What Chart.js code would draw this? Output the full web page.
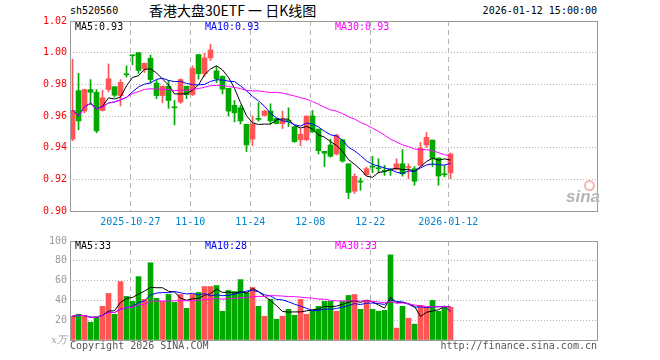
<!DOCTYPE html>
<html>
<head>
<meta charset="utf-8">
<script src="https://cdn.jsdelivr.net/npm/chart.js@4.4.1/dist/chart.umd.min.js"></script>
<style>
body { margin: 0; width: 660px; height: 360px; background: #fff; position: relative; overflow: hidden;
  font-family: "DejaVu Sans Mono", monospace; font-size: 10px; }
.t { position: absolute; white-space: nowrap; line-height: 12px; }
#pc { position: absolute; left: 0; top: 0; }
#vc { position: absolute; left: 0; top: 232px; }
.lg { position: absolute; white-space: nowrap; line-height: 12px; }
.eye { position: absolute; left: 584px; top: 180px; width: 7px; height: 7px; border: 2px solid #f4b4b4; border-radius: 50%; }
</style>
</head>
<body>
<div class="t" style="left:70px;top:5px">sh520560</div>
<div class="t" style="left:149px;top:2px;font-family:'Noto Sans CJK SC';font-size:14px;line-height:16px">香港大盘30ETF 一 日K线图</div>
<div class="t" style="right:63px;top:5px">2026-01-12 15:00:00</div>
<canvas id="pc" width="660" height="232"></canvas>
<canvas id="vc" width="660" height="128"></canvas>
<div class="lg" id="p5" style="left:75px;top:21px;color:#000"></div>
<div class="lg" id="p10" style="left:205px;top:21px;color:#0000ff"></div>
<div class="lg" id="p30" style="left:335px;top:21px;color:#ff00ff"></div>
<div class="lg" id="v5" style="left:75px;top:240px;color:#000"></div>
<div class="lg" id="v10" style="left:205px;top:240px;color:#0000ff"></div>
<div class="lg" id="v30" style="left:335px;top:240px;color:#ff00ff"></div>
<div class="eye"></div>
<div class="t" style="left:566px;top:188px;font-family:'Liberation Sans';font-style:italic;font-weight:bold;font-size:17px;line-height:18px;color:#b4b4b4">sina</div>
<div class="t" style="left:70px;top:340px;color:#555">Copyright 2026 SINA.COM</div>
<div class="t" style="right:63px;top:340px;color:#555">http://finance.sina.com.cn</div>
<script>
var dates = [
  '2025-10-13','2025-10-14','2025-10-15','2025-10-16','2025-10-17',
  '2025-10-20','2025-10-21','2025-10-22','2025-10-23','2025-10-24',
  '2025-10-27','2025-10-28','2025-10-29','2025-10-30','2025-10-31',
  '2025-11-03','2025-11-04','2025-11-05','2025-11-06','2025-11-07',
  '2025-11-10','2025-11-11','2025-11-12','2025-11-13','2025-11-14',
  '2025-11-17','2025-11-18','2025-11-19','2025-11-20','2025-11-21',
  '2025-11-24','2025-11-25','2025-11-26','2025-11-27','2025-11-28',
  '2025-12-01','2025-12-02','2025-12-03','2025-12-04','2025-12-05',
  '2025-12-08','2025-12-09','2025-12-10','2025-12-11','2025-12-12',
  '2025-12-15','2025-12-16','2025-12-17','2025-12-18','2025-12-19',
  '2025-12-22','2025-12-23','2025-12-24','2025-12-25','2025-12-26',
  '2025-12-29','2025-12-30','2025-12-31',
  '2026-01-05','2026-01-06','2026-01-07','2026-01-08','2026-01-09','2026-01-12'
];
var open = [
  0.9454, 0.9760, 0.9631, 0.9767, 0.9750, 0.9635, 0.9767, 0.9785, 0.9729, 0.9862,
  0.9982, 1.0000, 0.9896, 0.9965, 0.9808, 0.9729, 0.9788, 0.9654, 0.9688, 0.9788,
  0.9735, 0.9988, 0.9867, 0.9967, 0.9885, 0.9850, 0.9775, 0.9667, 0.9652, 0.9548,
  0.9454, 0.9581, 0.9604, 0.9631, 0.9585, 0.9552, 0.9569, 0.9533, 0.9450, 0.9450,
  0.9600, 0.9517, 0.9377, 0.9417, 0.9360, 0.9450, 0.9298, 0.9125, 0.9185, 0.9229,
  0.9279, 0.9269, 0.9252, 0.9258, 0.9263, 0.9298, 0.9275, 0.9267, 0.9288, 0.9417,
  0.9448, 0.9335, 0.9231, 0.9240
];
var high = [
  0.9958, 0.9869, 0.9770, 0.9830, 0.9767, 0.9763, 0.9929, 0.9785, 0.9830, 0.9917,
  0.9985, 1.0000, 0.9933, 0.9985, 0.9825, 0.9790, 0.9825, 0.9698, 0.9835, 0.9788,
  0.9917, 0.9988, 0.9996, 1.0054, 0.9913, 0.9854, 0.9775, 0.9698, 0.9667, 0.9548,
  0.9600, 0.9683, 0.9637, 0.9677, 0.9585, 0.9631, 0.9652, 0.9533, 0.9520, 0.9600,
  0.9635, 0.9517, 0.9377, 0.9454, 0.9485, 0.9450, 0.9298, 0.9235, 0.9208, 0.9277,
  0.9346, 0.9330, 0.9288, 0.9267, 0.9330, 0.9388, 0.9298, 0.9281, 0.9433, 0.9496,
  0.9448, 0.9335, 0.9288, 0.9367
];
var low = [
  0.9443, 0.9513, 0.9620, 0.9673, 0.9494, 0.9631, 0.9752, 0.9720, 0.9663, 0.9846,
  0.9923, 0.9870, 0.9875, 0.9808, 0.9710, 0.9683, 0.9648, 0.9544, 0.9680, 0.9710,
  0.9729, 0.9833, 0.9850, 0.9950, 0.9810, 0.9740, 0.9600, 0.9563, 0.9550, 0.9375,
  0.9413, 0.9567, 0.9600, 0.9550, 0.9550, 0.9521, 0.9533, 0.9433, 0.9413, 0.9444,
  0.9496, 0.9360, 0.9281, 0.9340, 0.9354, 0.9308, 0.9079, 0.9110, 0.9131, 0.9225,
  0.9242, 0.9240, 0.9225, 0.9225, 0.9260, 0.9220, 0.9204, 0.9163, 0.9281, 0.9402,
  0.9281, 0.9163, 0.9215, 0.9204
];
var close = [
  0.9635, 0.9569, 0.9767, 0.9750, 0.9506, 0.9715, 0.9835, 0.9731, 0.9812, 0.9860,
  0.9980, 0.9888, 0.9933, 0.9830, 0.9729, 0.9788, 0.9698, 0.9652, 0.9830, 0.9735,
  0.9900, 0.9867, 0.9967, 1.0017, 0.9835, 0.9770, 0.9631, 0.9620, 0.9569, 0.9417,
  0.9548, 0.9579, 0.9631, 0.9569, 0.9552, 0.9579, 0.9567, 0.9438, 0.9485, 0.9600,
  0.9500, 0.9381, 0.9365, 0.9346, 0.9479, 0.9315, 0.9117, 0.9219, 0.9183, 0.9267,
  0.9277, 0.9267, 0.9250, 0.9256, 0.9298, 0.9235, 0.9279, 0.9188, 0.9398, 0.9465,
  0.9333, 0.9221, 0.9229, 0.9360
];
// volume in 万
var volume = [
  24, 26, 24, 18, 23, 34, 47, 26, 59, 44,
  39, 64, 41, 78, 42, 39, 46, 38, 46, 32,
  46, 48, 54, 54, 55, 29, 50, 49, 61, 48,
  53, 34, 24, 41, 21, 24, 31, 25, 41, 26,
  30, 34, 39, 39, 29, 39, 45, 46, 31, 40,
  31, 29, 30, 86, 12, 34, 22, 16, 35, 33,
  40, 29, 33, 33
];
var tickDates = ['2025-10-27', '2025-11-10', '2025-11-24', '2025-12-08', '2025-12-22', '2026-01-12'];
var priceTicks = [0.90, 0.92, 0.94, 0.96, 0.98, 1.00, 1.02];
var volTicks = [0, 20, 40, 60, 80, 100];

var RED = '#ff5555', GREEN = '#00a800';
var colors = close.map(function(c, i) { return c >= open[i] ? RED : GREEN; });
var tickIdx = tickDates.map(function(d) { return dates.indexOf(d); });
var xMin = -0.42, xMax = 87.42, tickShift = 0.37;
var mono = {family: 'DejaVu Sans Mono', size: 10};

// moving average over the bars available so far
var ma = function(arr, n) {
    return arr.map(function(_, i) {
        var s = arr.slice(Math.max(0, i - n + 1), i + 1);
        return s.reduce(function(a, b) { return a + b; }, 0) / s.length;
    });
};
var pts = function(arr) { return arr.map(function(y, i) { return {x: i, y: y}; }); };

var tickText = function(i) {
    var k = tickIdx.indexOf(i);
    if (k < 0) return '';
    var d = dates[i];
    if (k === 0 || d.slice(0, 4) !== dates[tickIdx[k - 1]].slice(0, 4)) return d;
    return d.slice(5);
};

var xScale = function(showLabels) {
    return {
        type: 'linear', min: xMin, max: xMax, offset: false,
        afterBuildTicks: function(s) { s.ticks = tickIdx.map(function(i) { return {value: i - tickShift}; }); },
        afterFit: function(s) { s.height = showLabels ? 21 : 0; },
        grid: {offset: false, color: '#b4b4b4', drawTicks: false},
        border: {display: false, dash: [5, 4]},
        ticks: {
            display: showLabels, autoSkip: false, maxRotation: 0, padding: 5,
            color: '#0086d1', font: mono,
            callback: function(v) { return tickText(Math.round(v + tickShift)); }
        }
    };
};

var frame = {
    id: 'frame',
    afterDraw: function(c) {
        var a = c.chartArea, ctx = c.ctx;
        ctx.save();
        ctx.strokeStyle = '#999';
        ctx.lineWidth = 1;
        ctx.strokeRect(Math.round(a.left) + 0.5, Math.round(a.top) + 0.5,
            Math.round(a.right - a.left), Math.round(a.bottom - a.top));
        ctx.restore();
    }
};

var lineSet = function(data, color, order) {
    return {type: 'line', data: pts(data), borderColor: color, borderWidth: 1,
        pointRadius: 0, fill: false, tension: 0, order: order};
};

var pMa5 = ma(close, 5), pMa10 = ma(close, 10), pMa30 = ma(close, 30);
var vMa5 = ma(volume, 5), vMa10 = ma(volume, 10), vMa30 = ma(volume, 30);
var last = close.length - 1;
document.getElementById('p5').textContent = 'MA5:' + pMa5[last].toFixed(2);
document.getElementById('p10').textContent = 'MA10:' + pMa10[last].toFixed(2);
document.getElementById('p30').textContent = 'MA30:' + pMa30[last].toFixed(2);
document.getElementById('v5').textContent = 'MA5:' + Math.floor(vMa5[last]);
document.getElementById('v10').textContent = 'MA10:' + Math.floor(vMa10[last]);
document.getElementById('v30').textContent = 'MA30:' + Math.floor(vMa30[last]);

var priceChart = new Chart('pc', {
    type: 'bar',
    data: {
        datasets: [
            lineSet(pMa30, '#ff00ff', 0),
            lineSet(pMa10, '#0000ff', 1),
            lineSet(pMa5, '#000000', 2),
            {
                data: open.map(function(o, i) { return {x: i, y: [o, close[i]]}; }),
                backgroundColor: colors, barThickness: 5, grouped: false,
                minBarLength: 1, borderWidth: 0, order: 3
            },
            {
                data: low.map(function(l, i) { return {x: i, y: [l, high[i]]}; }),
                backgroundColor: colors, barThickness: 1, grouped: false,
                minBarLength: 1, borderWidth: 0, order: 4
            }
        ]
    },
    options: {
        responsive: false,
        animation: false,
        layout: {padding: {left: 0, right: 63, top: 21, bottom: 0}},
        plugins: {legend: {display: false}, tooltip: {enabled: false}},
        scales: {
            x: xScale(true),
            y: {
                min: 0.90, max: 1.02,
                afterBuildTicks: function(s) { s.ticks = priceTicks.map(function(v) { return {value: v}; }); },
                afterFit: function(s) { s.width = 70; },
                grid: {color: '#b4b4b4', drawTicks: false},
                border: {display: false, dash: [1, 2]},
                ticks: {color: '#ff0000', padding: 3, font: mono,
                    callback: function(v) { return v.toFixed(2); }}
            }
        }
    },
    plugins: [frame]
});

var volChart = new Chart('vc', {
    type: 'bar',
    data: {
        datasets: [
            lineSet(vMa30, '#ff00ff', 0),
            lineSet(vMa10, '#0000ff', 1),
            lineSet(vMa5, '#000000', 2),
            {
                data: pts(volume),
                backgroundColor: colors, barThickness: 5, grouped: false,
                borderWidth: 0, order: 3
            }
        ]
    },
    options: {
        responsive: false,
        animation: false,
        layout: {padding: {left: 0, right: 63, top: 8, bottom: 20}},
        plugins: {legend: {display: false}, tooltip: {enabled: false}},
        scales: {
            x: xScale(false),
            y: {
                min: 0, max: 100,
                afterBuildTicks: function(s) { s.ticks = volTicks.map(function(v) { return {value: v}; }); },
                afterFit: function(s) { s.width = 70; },
                grid: {color: '#b4b4b4', drawTicks: false},
                border: {display: false, dash: [1, 2]},
                ticks: {
                    color: '#999', padding: 3,
                    font: function(c) {
                        return c.tick && c.tick.value === 0
                            ? {family: 'DejaVu Serif', size: 10, style: 'italic'}
                            : mono;
                    },
                    callback: function(v) { return v === 0 ? 'x万' : String(v); }
                }
            }
        }
    },
    plugins: [frame]
});
</script>
</body>
</html>
